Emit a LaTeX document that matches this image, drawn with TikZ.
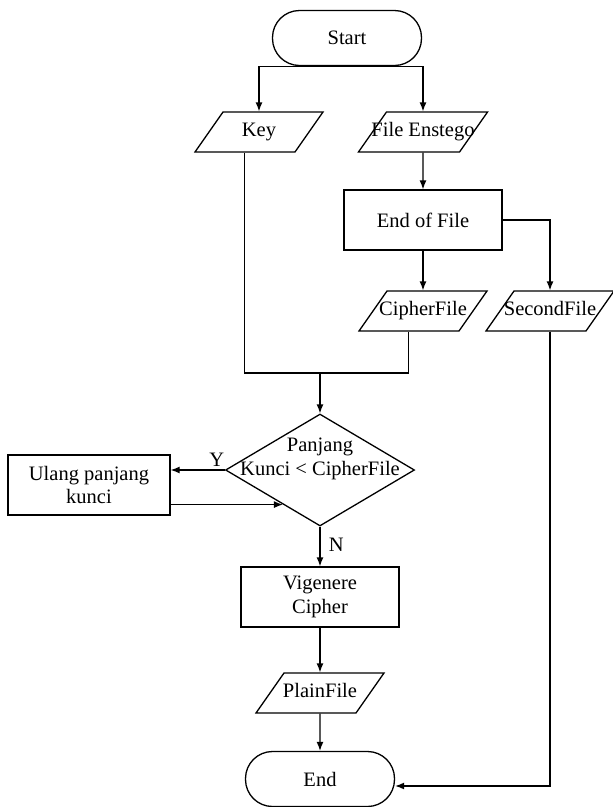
\documentclass[tikz,border=0pt]{standalone}
\usepackage{fontspec}
\setmainfont{Liberation Serif}
\usetikzlibrary{positioning,arrows.meta,shapes.geometric}
\tikzset{
  tm/.style={draw, rounded corners=27pt, minimum width=149pt, minimum height=55pt},
  io/.style={draw, trapezium, trapezium left angle=55, trapezium right angle=125,
             trapezium stretches body, minimum width=128pt, minimum height=40pt,
             text height=14pt, text depth=4.5pt, inner xsep=-15pt, inner ysep=10.75pt},
  pr/.style={draw, minimum width=158pt, minimum height=60pt, align=center},
  dc/.style={draw, diamond, minimum width=189pt, minimum height=112pt, inner sep=0pt},
  ar/.style={-{Latex[length=9pt,width=7pt]}},
}
\begin{document}
\begin{tikzpicture}[x=1pt, y=-1pt, on grid, line width=1.3pt,
                    font=\fontsize{20.5}{23.5}\selectfont]
\useasboundingbox (0,0) rectangle (613,807);
% top: start and the two inputs
\node[tm] (start) at (347,38) {Start};
\node[io] (key) [below left=94pt and 88pt of start] {Key};
\node[io] (enstego) [below right=94pt and 76pt of start] {File Enstego};
\node[pr] (eof) [below=88pt of enstego] {End of File};
\node[io] (cipher) [below=91pt of eof] {CipherFile};
\node[io] (second) [right=127pt of cipher] {SecondFile};

% decision and loop
\node[dc, label={[align=center, yshift=11pt]center:Panjang\\Kunci < CipherFile}] (cek)
  [below left=159pt and 103pt of cipher] {};
\coordinate[above=97pt of cek] (merge);
\node[pr, minimum width=162pt] (ulang) [below left=15pt and 231pt of cek] {Ulang panjang\\kunci};

% bottom
\node[pr] (vig) [below=127pt of cek] {Vigenere\\Cipher};
\node[io] (plain) [below=96pt of vig] {PlainFile};
\node[tm] (end) [below=86pt of plain] {End};

\draw[ar] (start.south) -| (key.north);
\draw[ar] (start.south) -| (enstego.north);
\draw[ar] (enstego) -- (eof);
\draw[ar] (eof) -- (cipher);
\draw[ar] (eof.east) -| (second.north);
\draw (key.bottom side) |- (merge) -| (cipher.bottom side);
\draw[ar] (merge) -- (cek);
\draw[ar] (cek.west) -- (cek.west -| ulang.east) node[pos=0.15, anchor=south] {Y};
\draw[ar] (ulang.east |- cek.223) -- (cek.223);
\draw[ar] (cek) -- (vig) node[pos=0.45, anchor=west, xshift=5pt] {N};
\draw[ar] (vig) -- (plain);
\draw[ar] (plain) -- (end);
\draw[ar] (second.south) |- ([yshift=-7pt]end.east);
\end{tikzpicture}
\end{document}
